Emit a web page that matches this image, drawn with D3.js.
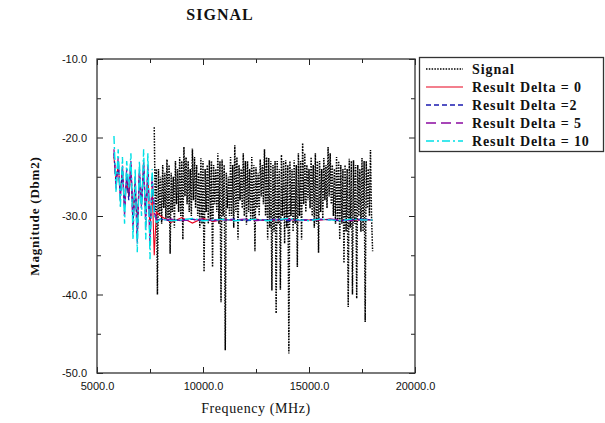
<!DOCTYPE html>
<html>
<head>
<meta charset="utf-8">
<script src="https://cdn.jsdelivr.net/npm/d3@7"></script>
<style>
  html, body { margin: 0; padding: 0; background: #fff; }
  svg { display: block; }
</style>
</head>
<body>
<svg id="chart" width="605" height="423"></svg>
<script>
// ---------------- DATA ----------------
const chartTitle = "SIGNAL";
const xTitle = "Frequency (MHz)";
const yTitle = "Magnitude (Dbm2)";
const xMajorTicks = [5000, 10000, 15000, 20000];
const xMinorTicks = [7500, 12500, 17500];
const yMajorTicks = [-50, -40, -30, -20, -10];
const yMinorTicks = [-45, -35, -25, -15];
const seriesNames = ["Signal", "Result Delta = 0", "Result Delta =2", "Result Delta = 5", "Result Delta = 10"];

// Signal: samples every 50 MHz starting at 7700 MHz
const signalStart = 7700;
const signalStep = 50;
const signalValues = [
  -18.7, -29.5, -24.0, -40.0,  -24.0, -30.0, -25.0, -31.0,  -23.5, -29.0, -24.5, -30.5,
  -22.8, -30.5, -23.5, -34.8,  -24.5, -29.5, -25.0, -31.5,
  -23.0, -28.5, -24.0, -29.5,  -22.5, -30.0, -23.0, -33.0,  -21.2, -27.5, -22.5, -28.5,
  -23.0, -29.5, -24.0, -30.0,  -21.4, -28.0, -22.5, -29.0,
  -23.5, -30.0, -24.5, -31.5,  -22.6, -31.0, -23.0, -37.1,  -24.0, -29.5, -23.5, -31.0,
  -22.9, -30.5, -23.0, -36.5,  -23.5, -28.5, -24.0, -29.5,
  -22.0, -31.0, -23.0, -41.0,  -22.8, -30.0, -23.5, -47.1,  -24.5, -29.0, -25.0, -30.0,
  -22.5, -30.0, -23.5, -31.5,  -21.0, -29.5, -22.5, -33.0,
  -23.5, -28.0, -24.0, -29.0,  -22.0, -30.0, -23.0, -31.1,  -23.0, -29.5, -24.0, -30.5,
  -22.5, -30.5, -23.5, -34.5,  -23.8, -29.0, -24.5, -30.0,
  -22.8, -27.5, -23.5, -28.5,  -21.5, -30.0, -22.5, -33.0,  -22.6, -31.5, -23.0, -39.5,
  -23.5, -32.0, -23.0, -42.4,  -23.0, -31.0, -24.0, -39.4,
  -22.2, -30.0, -23.0, -33.5,  -22.9, -31.5, -23.5, -47.5,  -23.0, -30.0, -24.0, -32.0,
  -22.9, -31.0, -23.5, -36.5,  -22.0, -30.0, -23.0, -33.0,
  -20.7, -28.5, -22.0, -29.5,  -23.5, -28.0, -24.0, -29.0,  -22.5, -30.0, -23.5, -31.5,
  -22.0, -31.0, -23.0, -34.7,  -23.0, -29.5, -24.0, -30.5,
  -22.6, -28.0, -23.5, -29.0,  -21.2, -27.5, -22.0, -28.5,  -23.5, -30.0, -24.0, -31.0,
  -22.5, -30.5, -23.0, -33.0,  -23.5, -31.0, -24.0, -36.0,
  -23.5, -32.0, -24.0, -41.6,  -22.7, -31.5, -23.0, -40.0,  -22.9, -31.0, -23.5, -40.5,
  -23.5, -30.0, -24.0, -32.0,  -22.6, -32.0, -23.0, -43.5,
  -23.0, -29.0, -24.0, -30.0,  -21.6, -30.0, -34.5
];

// Result series frequencies (MHz)
const resultFreq = [
  5800, 5900, 6000, 6100, 6200, 6300, 6400, 6500, 6600, 6700,
  6800, 6900, 7000, 7100, 7200, 7300, 7400, 7500, 7600, 7700, 7800,
  8000, 8500, 9000, 9500, 10000, 10500, 11000, 11500, 12000, 12500,
  13000, 13500, 14000, 14500, 15000, 15500, 16000, 16500, 17000, 17500, 18000
];
const delta0 = [
  -22.5, -25.5, -23.5, -27.0, -24.5, -28.5, -25.5, -27.5, -24.0, -30.0,
  -26.0, -31.5, -25.0, -28.0, -24.0, -30.0, -24.5, -32.0, -26.0, -35.0, -29.5,
  -30.0, -30.8, -30.2, -30.9, -30.3, -30.7, -30.4, -30.6, -30.5, -30.4,
  -30.6, -30.5, -30.4, -30.6, -30.5, -30.5, -30.4, -30.6, -30.5, -30.5, -30.5
];
const delta2 = [
  -22.0, -26.0, -23.0, -27.5, -24.0, -29.0, -25.0, -28.0, -23.5, -31.0,
  -25.5, -32.5, -24.5, -28.5, -23.5, -30.5, -24.0, -33.0, -25.5, -29.0, -30.5,
  -30.4, -30.6, -30.5, -30.4, -30.6, -30.5, -30.5, -30.4, -30.6, -30.5,
  -30.5, -30.4, -30.6, -30.5, -30.5, -30.4, -30.5, -30.6, -30.5, -30.4, -30.5
];
const delta5 = [
  -21.5, -26.5, -22.5, -28.0, -23.5, -30.0, -24.0, -27.0, -23.0, -32.0,
  -25.0, -33.5, -24.0, -29.0, -23.0, -31.5, -23.5, -34.0, -25.0, -29.5, -30.5,
  -30.5, -30.4, -30.6, -30.5, -30.4, -30.6, -30.5, -30.5, -30.4, -30.6,
  -30.5, -30.5, -30.4, -30.6, -30.5, -30.5, -30.4, -30.5, -30.6, -30.5, -30.4
];
const delta10 = [
  -19.8, -27.0, -21.5, -29.0, -22.5, -31.0, -23.0, -26.5, -22.0, -33.0,
  -24.0, -34.6, -23.0, -30.0, -21.5, -33.0, -22.0, -35.5, -24.0, -30.0, -30.8,
  -30.4, -30.6, -30.5, -30.3, -30.6, -30.5, -30.4, -30.6, -30.5, -30.4,
  -30.6, -30.5, -30.3, -30.5, -30.6, -30.4, -30.5, -30.6, -30.4, -30.5, -30.5
];

// ---------------- CHART ----------------
const svg = d3.select("#chart");
const plot = { left: 97, right: 415, top: 59, bottom: 373 };

const x = d3.scaleLinear().domain([5000, 20000]).range([plot.left, plot.right]);
const y = d3.scaleLinear().domain([-50, -10]).range([plot.bottom, plot.top]);

const serif = "'Liberation Serif', 'Times New Roman', serif";
const sans = "'Liberation Sans', Arial, sans-serif";

// Title
svg.append("text")
  .attr("x", 220).attr("y", 20)
  .attr("text-anchor", "middle")
  .attr("font-family", serif).attr("font-size", 16).attr("font-weight", "bold")
  .attr("letter-spacing", 1)
  .attr("fill", "#111")
  .text(chartTitle);

// Clip
svg.append("defs").append("clipPath").attr("id", "clip")
  .append("rect")
  .attr("x", plot.left).attr("y", plot.top)
  .attr("width", plot.right - plot.left).attr("height", plot.bottom - plot.top);

const line = d3.line().x(d => x(d[0])).y(d => y(d[1]));

const signalData = signalValues.map((v, i) => [signalStart + i * signalStep, v]);
const mk = arr => resultFreq.map((f, i) => [f, arr[i]]);

const styles = [
  { color: "#000000", dash: "1.5,1.3", width: 1.5 },
  { color: "#e8001c", dash: null, width: 1.1 },
  { color: "#1a1ab0", dash: "5,3", width: 1.3 },
  { color: "#8a0aa0", dash: "10,5", width: 1.3 },
  { color: "#00e0e6", dash: "8,3,2,3", width: 1.4 }
];
const seriesData = [signalData, mk(delta0), mk(delta2), mk(delta5), mk(delta10)];

const g = svg.append("g").attr("clip-path", "url(#clip)");
seriesData.forEach((data, i) => {
  const s = styles[i];
  g.append("path")
    .datum(data)
    .attr("d", line)
    .attr("fill", "none")
    .attr("stroke", s.color)
    .attr("stroke-width", s.width)
    .attr("stroke-dasharray", s.dash)
    .attr("stroke-linejoin", "miter");
});

// Axes
const fmt = d => d.toFixed(1);
function styleAxis(sel) {
  sel.select(".domain").remove();
  sel.selectAll(".tick line").attr("stroke", "#222").attr("stroke-width", 1);
  sel.selectAll(".tick text").attr("font-family", sans).attr("font-size", 11).attr("fill", "#111");
}
svg.append("g").attr("transform", `translate(0,${plot.bottom})`)
  .call(d3.axisBottom(x).tickValues(xMajorTicks).tickFormat(fmt).tickSize(-6).tickPadding(9))
  .call(styleAxis);
svg.append("g").attr("transform", `translate(0,${plot.bottom})`)
  .call(d3.axisBottom(x).tickValues(xMinorTicks).tickFormat("").tickSize(-4))
  .call(styleAxis);
svg.append("g").attr("transform", `translate(0,${plot.top})`)
  .call(d3.axisTop(x).tickValues(xMajorTicks).tickFormat("").tickSize(-6))
  .call(styleAxis);
svg.append("g").attr("transform", `translate(0,${plot.top})`)
  .call(d3.axisTop(x).tickValues(xMinorTicks).tickFormat("").tickSize(-4))
  .call(styleAxis);
svg.append("g").attr("transform", `translate(${plot.left},0)`)
  .call(d3.axisLeft(y).tickValues(yMajorTicks).tickFormat(fmt).tickSize(-6).tickPadding(10))
  .call(styleAxis);
svg.append("g").attr("transform", `translate(${plot.left},0)`)
  .call(d3.axisLeft(y).tickValues(yMinorTicks).tickFormat("").tickSize(-4))
  .call(styleAxis);
svg.append("g").attr("transform", `translate(${plot.right},0)`)
  .call(d3.axisRight(y).tickValues(yMajorTicks).tickFormat("").tickSize(-6))
  .call(styleAxis);
svg.append("g").attr("transform", `translate(${plot.right},0)`)
  .call(d3.axisRight(y).tickValues(yMinorTicks).tickFormat("").tickSize(-4))
  .call(styleAxis);

// Frame
svg.append("rect")
  .attr("x", plot.left).attr("y", plot.top)
  .attr("width", plot.right - plot.left).attr("height", plot.bottom - plot.top)
  .attr("fill", "none").attr("stroke", "#333").attr("stroke-width", 1.3);

// Axis titles
svg.append("text")
  .attr("x", (plot.left + plot.right) / 2).attr("y", 413)
  .attr("text-anchor", "middle")
  .attr("font-family", serif).attr("font-size", 14).attr("letter-spacing", 0.6)
  .attr("fill", "#111")
  .text(xTitle);
svg.append("text")
  .attr("transform", `translate(39,${(plot.top + plot.bottom) / 2}) rotate(-90)`)
  .attr("text-anchor", "middle")
  .attr("font-family", serif).attr("font-size", 13).attr("font-weight", "bold")
  .attr("letter-spacing", 0.8)
  .attr("fill", "#111")
  .text(yTitle);

// Legend
const lg = svg.append("g");
lg.append("rect")
  .attr("x", 419.5).attr("y", 57.5).attr("width", 184).attr("height", 94)
  .attr("fill", "#fff").attr("stroke", "#333").attr("stroke-width", 1.3);
seriesNames.forEach((name, i) => {
  const yy = 69 + i * 18;
  const s = styles[i];
  lg.append("line")
    .attr("x1", 426).attr("x2", 463).attr("y1", yy).attr("y2", yy)
    .attr("stroke", s.color).attr("stroke-width", s.width)
    .attr("stroke-dasharray", s.dash);
  lg.append("text")
    .attr("x", 472).attr("y", yy + 4.5)
    .attr("font-family", serif).attr("font-size", 14).attr("font-weight", "bold")
    .attr("letter-spacing", 0.9)
    .attr("fill", "#111")
    .text(name);
});
</script>
</body>
</html>
